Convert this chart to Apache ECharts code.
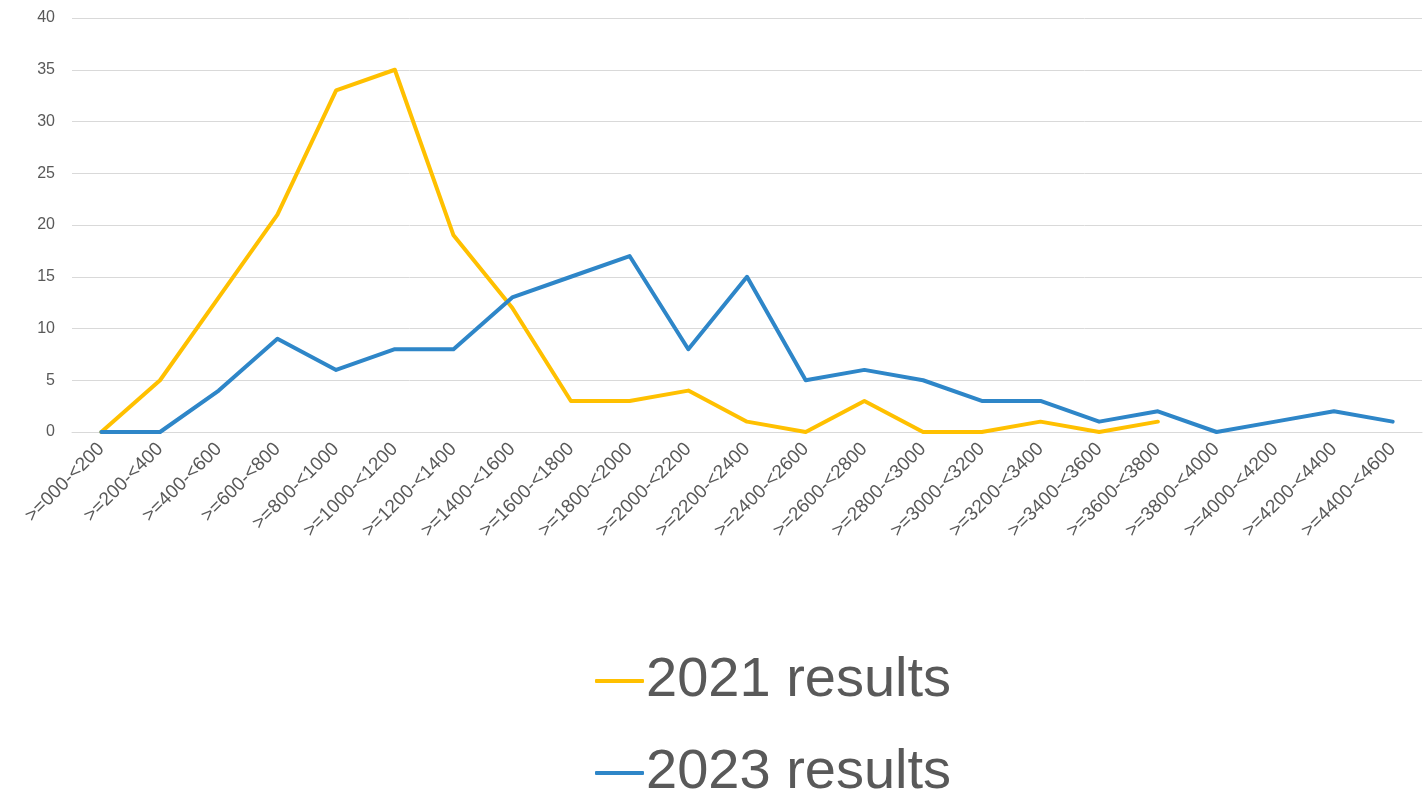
<!DOCTYPE html>
<html>
<head>
<meta charset="utf-8">
<script src="https://cdn.jsdelivr.net/npm/echarts@6/dist/echarts.min.js"></script>
<style>
html,body{margin:0;padding:0;background:#fff;}
#chart{width:1427px;height:792px;}
</style>
</head>
<body>
<div id="chart"></div>
<script>
const categories = [">=000-<200", ">=200-<400", ">=400-<600", ">=600-<800", ">=800-<1000", ">=1000-<1200", ">=1200-<1400", ">=1400-<1600", ">=1600-<1800", ">=1800-<2000", ">=2000-<2200", ">=2200-<2400", ">=2400-<2600", ">=2600-<2800", ">=2800-<3000", ">=3000-<3200", ">=3200-<3400", ">=3400-<3600", ">=3600-<3800", ">=3800-<4000", ">=4000-<4200", ">=4200-<4400", ">=4400-<4600"];
const results2021 = [0, 5, 13, 21, 33, 35, 19, 12, 3, 3, 4, 1, 0, 3, 0, 0, 1, 0, 1, null, null, null, null];
const results2023 = [0, 0, 4, 9, 6, 8, 8, 13, 15, 17, 8, 15, 5, 6, 5, 3, 3, 1, 2, 0, 1, 2, 1];
const seriesNames = ["2021 results", "2023 results"];

const chart = echarts.init(document.getElementById('chart'));
const font = '"Liberation Sans", Arial, sans-serif';
function legendFor(name, top) {
  return {
    orient: 'horizontal',
    left: 595,
    top: top,
    padding: 0,
    itemWidth: 49,
    itemHeight: 4,
    itemGap: 0,
    icon: 'roundRect',
    textStyle: {fontFamily: font, fontSize: 56, color: '#595959', lineHeight: 60, padding: [0,0,0,-3]},
    data: [name]
  };
}
chart.setOption({
  animation: false,
  grid: {left: 72, right: 5, top: 18, bottom: 360, containLabel: false},
  legend: [legendFor(seriesNames[0], 651), legendFor(seriesNames[1], 743)],
  xAxis: {
    type: 'category',
    data: categories,
    boundaryGap: true,
    axisLine: {show: true, lineStyle: {color: '#D9D9D9', width: 1}},
    axisTick: {show: false},
    axisLabel: {rotate: 45, interval: 0, fontFamily: font, fontSize: 19, color: '#595959', margin: 14}
  },
  yAxis: {
    type: 'value',
    min: 0, max: 40, interval: 5,
    axisLine: {show: false},
    axisTick: {show: false},
    splitLine: {lineStyle: {color: '#D9D9D9', width: 1}},
    axisLabel: {fontFamily: font, fontSize: 16, color: '#595959', margin: 17}
  },
  series: [
    {name: seriesNames[0], type: 'line', data: results2021, symbol: 'none', color: '#FFC000',
     lineStyle: {width: 4, color: '#FFC000', cap: 'round', join: 'round'}},
    {name: seriesNames[1], type: 'line', data: results2023, symbol: 'none', color: '#2E86C8',
     lineStyle: {width: 4, color: '#2E86C8', cap: 'round', join: 'round'}}
  ]
});
</script>
</body>
</html>
